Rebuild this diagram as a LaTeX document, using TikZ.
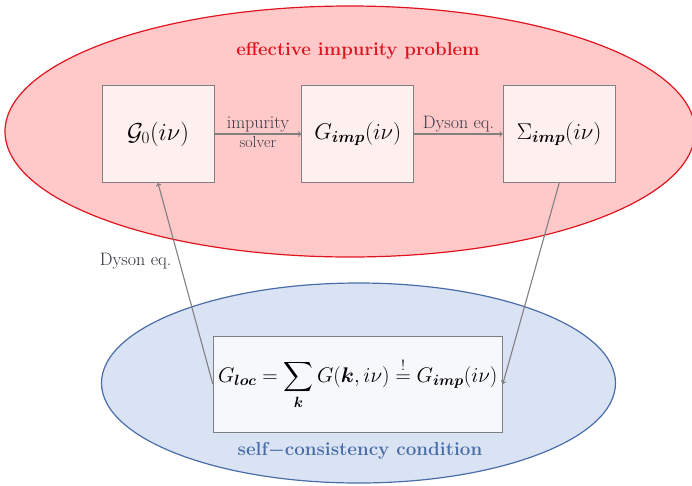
\RequirePackage{fix-cm}
\documentclass[tikz,border=0pt]{standalone}
\usepackage{amsmath}
\usepackage{bm}
\usetikzlibrary{shapes.geometric}

\definecolor{probred}{HTML}{E0141E}
\definecolor{probfill}{HTML}{FFC9C9}
\definecolor{condblue}{HTML}{4A6DAA}
\definecolor{condfill}{HTML}{D9E3F3}
\definecolor{boxpink}{HTML}{FFF0F0}
\definecolor{boxwhite}{HTML}{F7F8FC}
\definecolor{labelgray}{HTML}{353A45}

\tikzset{
        quantity/.style={draw=gray,line width=1pt,fill=boxpink,minimum width=112pt,
                minimum height=97pt,inner sep=0pt,font=\fontsize{22.8}{26}\selectfont},
        flow/.style={->,draw=gray,line width=1.1pt},
        steplabel/.style={text=labelgray,inner sep=1.5pt,font=\fontsize{18}{20}\selectfont},
}

\begin{document}
\begin{tikzpicture}[x=1pt,y=-1pt]
        \useasboundingbox (0,0) rectangle (692,485);

        \begin{scope}
                \clip (0,0) rectangle (692,485);
                \node[ellipse,draw=probred,fill=probfill,line width=1.2pt,
                        minimum width=690pt,minimum height=251pt] (problem) at (350,131.5) {};
                \node[ellipse,draw=condblue,fill=condfill,line width=1.2pt,
                        minimum width=514pt,minimum height=200pt] (condition) at (358.5,383) {};
        \end{scope}

        \node[text=probred,font=\fontsize{18.6}{20}\selectfont\bfseries] (probtitle) at (358,51)
                {effective impurity problem};
        \node[text=condblue,font=\fontsize{18.8}{20}\selectfont\bfseries] (condtitle) at (360,451)
                {self{\boldmath$-$}consistency condition};

        \node[quantity,font=\fontsize{24.5}{28}\selectfont] (gzero) at (158,134) {$\mathcal{G}_0(i\nu)$};
        \node[quantity] (gimp) at (357.8,134) {$G_{\bm{imp}}(i\nu)$};
        \node[quantity] (sigma) at (559.2,134) {$\Sigma_{\bm{imp}}(i\nu)$};

        \node[quantity,fill=boxwhite,minimum width=289pt,minimum height=96pt,
                font=\fontsize{21.2}{24}\selectfont] (selfcons) at (357.8,384)
                {$G_{\bm{loc}}=\displaystyle\sum_{\bm{k}}G(\bm{k},i\nu)\overset{!}{=}G_{\bm{imp}}(i\nu)$};

        \draw[flow] (gzero) -- (gimp)
                node[midway,above,steplabel] {impurity}
                node[midway,below,steplabel,font=\fontsize{16}{18}\selectfont] {solver};
        \draw[flow] (gimp) -- (sigma)
                node[midway,above,steplabel] {Dyson eq.};

        \draw[flow] (sigma.south) -- (selfcons.east);
        \draw[flow] (selfcons.west) -- (gzero.south)
                node[pos=0.61,left=6pt,steplabel,text=labelgray!80!black] {Dyson eq.};
\end{tikzpicture}
\end{document}
